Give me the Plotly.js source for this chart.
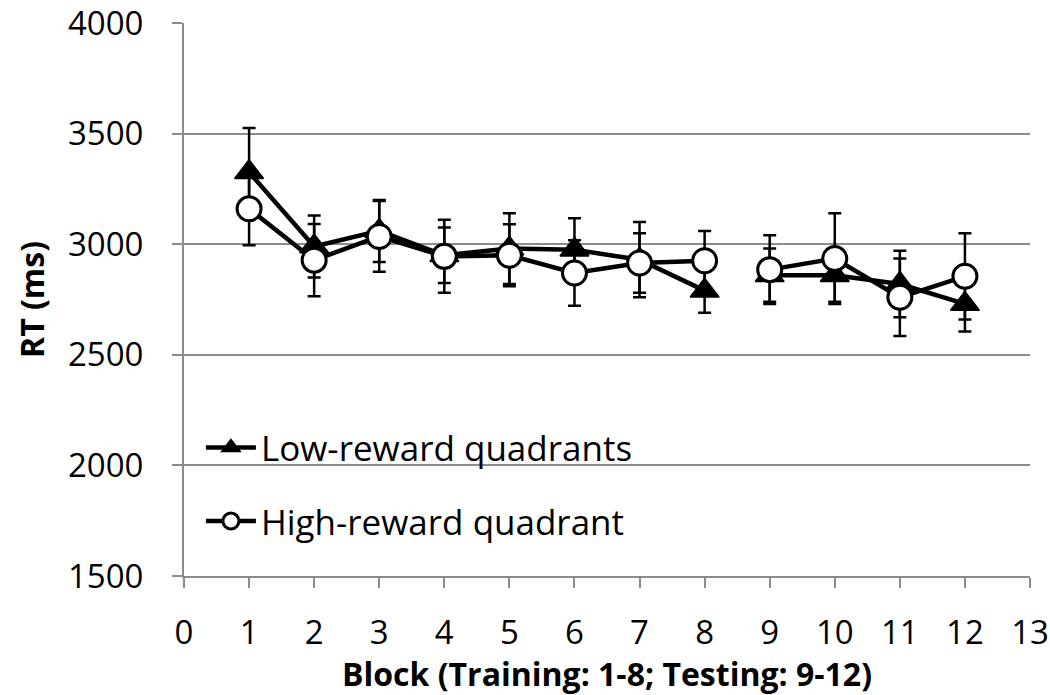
<!DOCTYPE html>
<html>
<head>
<meta charset="utf-8">
<script src="https://cdn.plot.ly/plotly-3.0.1.min.js"></script>
<style>
  html, body { margin: 0; padding: 0; background: #ffffff; }
  #chart { width: 1050px; height: 695px; }
</style>
</head>
<body>
<div id="chart"></div>
<script>
// Block numbers (Training: 1-8; Testing: 9-12)
const blocks = [1, 2, 3, 4, 5, 6, 7, 8, 9, 10, 11, 12];
// Low-reward quadrants: mean RT (ms) and error
const lowRT = [3325, 2990, 3060, 2950, 2980, 2975, 2930, 2790, 2860, 2860, 2820, 2730];
const lowErr = [200, 140, 140, 125, 160, 142, 170, 100, 120, 120, 150, 125];
// High-reward quadrant: mean RT (ms) and error
const highRT = [3160, 2928, 3035, 2945, 2950, 2870, 2915, 2925, 2885, 2935, 2760, 2855];
const highErr = [165, 163, 160, 165, 140, 148, 135, 135, 155, 205, 175, 195];
// Phase split (training blocks vs testing blocks)
const trainingCount = 8;
const seriesNames = ['Low-reward quadrants', 'High-reward quadrant'];
const xTicks = [0, 1, 2, 3, 4, 5, 6, 7, 8, 9, 10, 11, 12, 13];
const yTicks = [1500, 2000, 2500, 3000, 3500, 4000];

const FONT = '"Open Sans", "Liberation Sans", sans-serif';
const GRID = '#8c8c8c';

function seg(arr, part) {
  return part === 0 ? arr.slice(0, trainingCount) : arr.slice(trainingCount);
}

function makeTrace(ys, errs, part, name, symbol, fill, legendId) {
  return {
    type: 'scatter',
    mode: 'lines+markers',
    x: seg(blocks, part),
    y: seg(ys, part),
    name: name,
    legend: legendId,
    showlegend: part === 0,
    legendgroup: name,
    line: { color: '#000000', width: 4.5 },
    marker: {
      symbol: symbol,
      size: symbol === 'circle' ? 24 : 25,
      color: fill,
      line: { color: '#000000', width: symbol === 'circle' ? 3 : 1.5 }
    },
    error_y: {
      type: 'data',
      array: seg(errs, part),
      visible: true,
      color: '#000000',
      thickness: 2.5,
      width: 6.5
    },
    hoverinfo: 'x+y+name'
  };
}

const traces = [
  makeTrace(lowRT, lowErr, 0, seriesNames[0], 'triangle-up', '#000000', 'legend'),
  makeTrace(lowRT, lowErr, 1, seriesNames[0], 'triangle-up', '#000000', 'legend'),
  makeTrace(highRT, highErr, 0, seriesNames[1], 'circle', '#ffffff', 'legend2'),
  makeTrace(highRT, highErr, 1, seriesNames[1], 'circle', '#ffffff', 'legend2')
];

const legendCommon = {
  xref: 'paper', yref: 'paper',
  xanchor: 'left', yanchor: 'middle',
  bgcolor: 'rgba(0,0,0,0)',
  borderwidth: 0,
  itemwidth: 50,
  font: { family: FONT, size: 35, color: '#000000' }
};

const layout = {
  width: 1050,
  height: 695,
  margin: { l: 184, r: 20, t: 23, b: 119 },
  paper_bgcolor: '#ffffff',
  plot_bgcolor: '#ffffff',
  font: { family: FONT, color: '#000000' },
  xaxis: {
    range: [0, 13],
    tickmode: 'array',
    tickvals: xTicks,
    ticktext: xTicks.map(String),
    showgrid: false,
    zeroline: false,
    showline: true,
    linecolor: GRID,
    linewidth: 2,
    ticks: 'outside',
    ticklen: 10,
    tickwidth: 2,
    tickcolor: GRID,
    ticklabelstandoff: 16,
    ticklabeloverflow: 'allow',
    tickfont: { family: FONT, size: 33, color: '#000000' },
    title: {
      text: 'Block (Training: 1-8; Testing: 9-12)',
      font: { family: FONT, size: 32, color: '#000000', weight: 'bold' },
      standoff: 14
    },
    fixedrange: true
  },
  yaxis: {
    range: [1500, 4000],
    tickmode: 'array',
    tickvals: yTicks,
    ticktext: yTicks.map(String),
    showgrid: true,
    gridcolor: GRID,
    gridwidth: 2,
    zeroline: false,
    showline: true,
    linecolor: GRID,
    linewidth: 2,
    ticks: 'outside',
    ticklen: 10,
    tickwidth: 2,
    tickcolor: GRID,
    ticklabelstandoff: 22,
    ticklabeloverflow: 'allow',
    tickfont: { family: FONT, size: 33, color: '#000000' },
    title: {
      text: 'RT (ms)',
      font: { family: FONT, size: 32, color: '#000000', weight: 'bold' },
      standoff: 14
    },
    fixedrange: true
  },
  legend: Object.assign({}, legendCommon, { x: 0.02, y: 0.232 }),
  legend2: Object.assign({}, legendCommon, { x: 0.02, y: 0.099 }),
  showlegend: true
};

Plotly.newPlot('chart', traces, layout, { displayModeBar: false, responsive: false, staticPlot: false });
</script>
</body>
</html>
